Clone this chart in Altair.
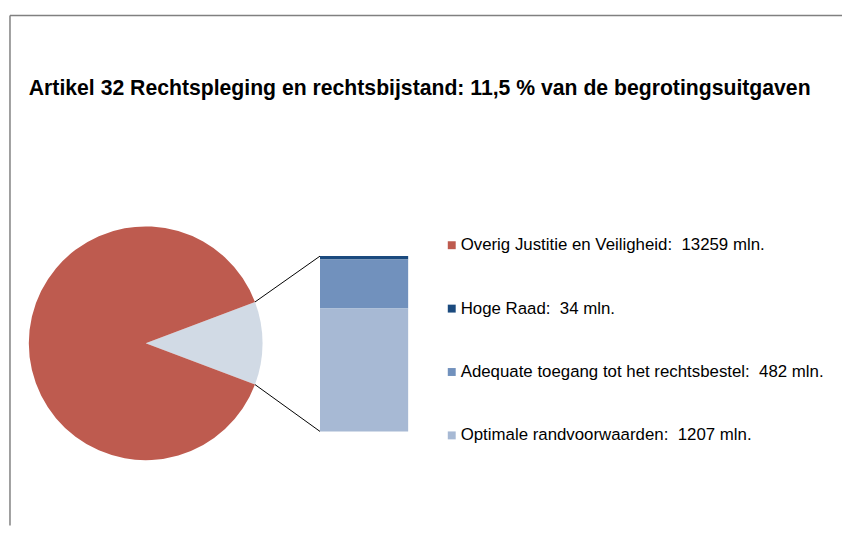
import math
import pandas as pd
import altair as alt

# ---- data ----
title_text = "Artikel 32 Rechtspleging en rechtsbijstand: 11,5 % van de begrotingsuitgaven"
categories = [
    "Overig Justitie en Veiligheid",
    "Hoge Raad",
    "Adequate toegang tot het rechtsbestel",
    "Optimale randvoorwaarden",
]
values = [13259, 34, 482, 1207]
colors = ["#BE5B4F", "#1B4A7E", "#7191BD", "#A7B9D4"]
rest_name = "Artikel 32"
rest_color = "#D1DAE5"
unit = "mln."

# ---- layout constants (chart pixel space) ----
CX, CY, R = 139, 336, 118
BAR_X0, BAR_X1, BAR_TOP, BAR_BOT = 315, 404, 248, 425
LEG_SQ_X, LEG_TX_X, LEG_Y0, LEG_DY = 448, 457, 237, 64

rest_total = sum(values[1:])
grand_total = values[0] + rest_total
frac = rest_total / grand_total
half = math.pi * frac  # half-angle of the exploded slice
start = math.pi / 2 - half

all_domain = categories + [rest_name]
all_range = colors + [rest_color]
color_scale = alt.Scale(domain=all_domain, range=all_range)

# pie
pie_df = pd.DataFrame({
    "cat": [rest_name, categories[0]],
    "val": [rest_total, values[0]],
    "ord": [0, 1],
})
pie = alt.Chart(pie_df).mark_arc(outerRadius=R).encode(
    theta=alt.Theta("val:Q", stack=True,
                    scale=alt.Scale(range=[start, start + 2 * math.pi])),
    color=alt.Color("cat:N", scale=color_scale, legend=None),
    order=alt.Order("ord:Q"),
    x=alt.value(CX),
    y=alt.value(CY),
)

# stacked bar (bottom -> top: Optimale, Adequate, Hoge Raad)
bar_df = pd.DataFrame({
    "cat": categories[1:],
    "val": values[1:],
    "ord": [2, 1, 0],
})
bar = alt.Chart(bar_df).transform_stack(
    stack="val", as_=["y0", "y1"], groupby=[],
    sort=[alt.SortField("ord", order="ascending")],
).mark_bar().encode(
    x=alt.value(BAR_X0),
    x2=alt.value(BAR_X1),
    y=alt.Y("y0:Q",
            scale=alt.Scale(domain=[0, rest_total], range=[BAR_BOT, BAR_TOP]),
            axis=None),
    y2="y1:Q",
    color=alt.Color("cat:N", scale=color_scale, legend=None),
)

# connector lines from slice edges to bar corners
ex = CX + R * math.cos(half)
dy = R * math.sin(half)
conn_df = pd.DataFrame({
    "x": [ex, ex],
    "y": [CY - dy, CY + dy],
    "x2": [BAR_X0, BAR_X0],
    "y2": [BAR_TOP, BAR_BOT],
})
conn = alt.Chart(conn_df).mark_rule(color="#000000", strokeWidth=1).encode(
    x=alt.X("x:Q", scale=None),
    y=alt.Y("y:Q", scale=None),
    x2="x2:Q",
    y2="y2:Q",
)

# legend
leg_df = pd.DataFrame({
    "cat": categories,
    "label": [f"{c}:\u00a0 {v} {unit}" for c, v in zip(categories, values)],
    "lx": [LEG_SQ_X] * len(categories),
    "ly": [LEG_Y0 + i * LEG_DY for i in range(len(categories))],
    "tx": [LEG_TX_X] * len(categories),
    "ty": [LEG_Y0 + 5 + i * LEG_DY for i in range(len(categories))],
})
leg_sq = alt.Chart(leg_df).mark_square(size=64, opacity=1).encode(
    x=alt.X("lx:Q", scale=None),
    y=alt.Y("ly:Q", scale=None),
    color=alt.Color("cat:N", scale=color_scale, legend=None),
)
leg_tx = alt.Chart(leg_df).mark_text(
    align="left", baseline="alphabetic", fontSize=17,
    font="Liberation Sans", color="#000000",
).encode(
    x=alt.X("tx:Q", scale=None),
    y=alt.Y("ty:Q", scale=None),
    text="label:N",
)

# title
title_df = pd.DataFrame({"t": [title_text]})
title = alt.Chart(title_df).mark_text(
    align="left", baseline="alphabetic", fontSize=21.4, fontWeight="bold",
    font="Liberation Sans", color="#000000",
).encode(x=alt.value(21), y=alt.value(85), text="t:N")

# frame
frame_df = pd.DataFrame({"k": [0]})
frame_top = alt.Chart(frame_df).mark_rule(color="#808080", strokeWidth=1.5).encode(
    x=alt.value(2), x2=alt.value(842), y=alt.value(5), y2=alt.value(5))
frame_left = alt.Chart(frame_df).mark_rule(color="#808080", strokeWidth=1.5).encode(
    x=alt.value(2), x2=alt.value(2), y=alt.value(5), y2=alt.value(520))

chart = alt.layer(
    frame_top, frame_left, title, pie, conn, bar, leg_sq, leg_tx
).resolve_scale(
    x="independent", y="independent"
).properties(
    width=842, height=520, padding=0, autosize="none", background="white"
).configure_view(stroke=None)

chart.save("out.html", embed_options={"renderer": "svg", "actions": False})
